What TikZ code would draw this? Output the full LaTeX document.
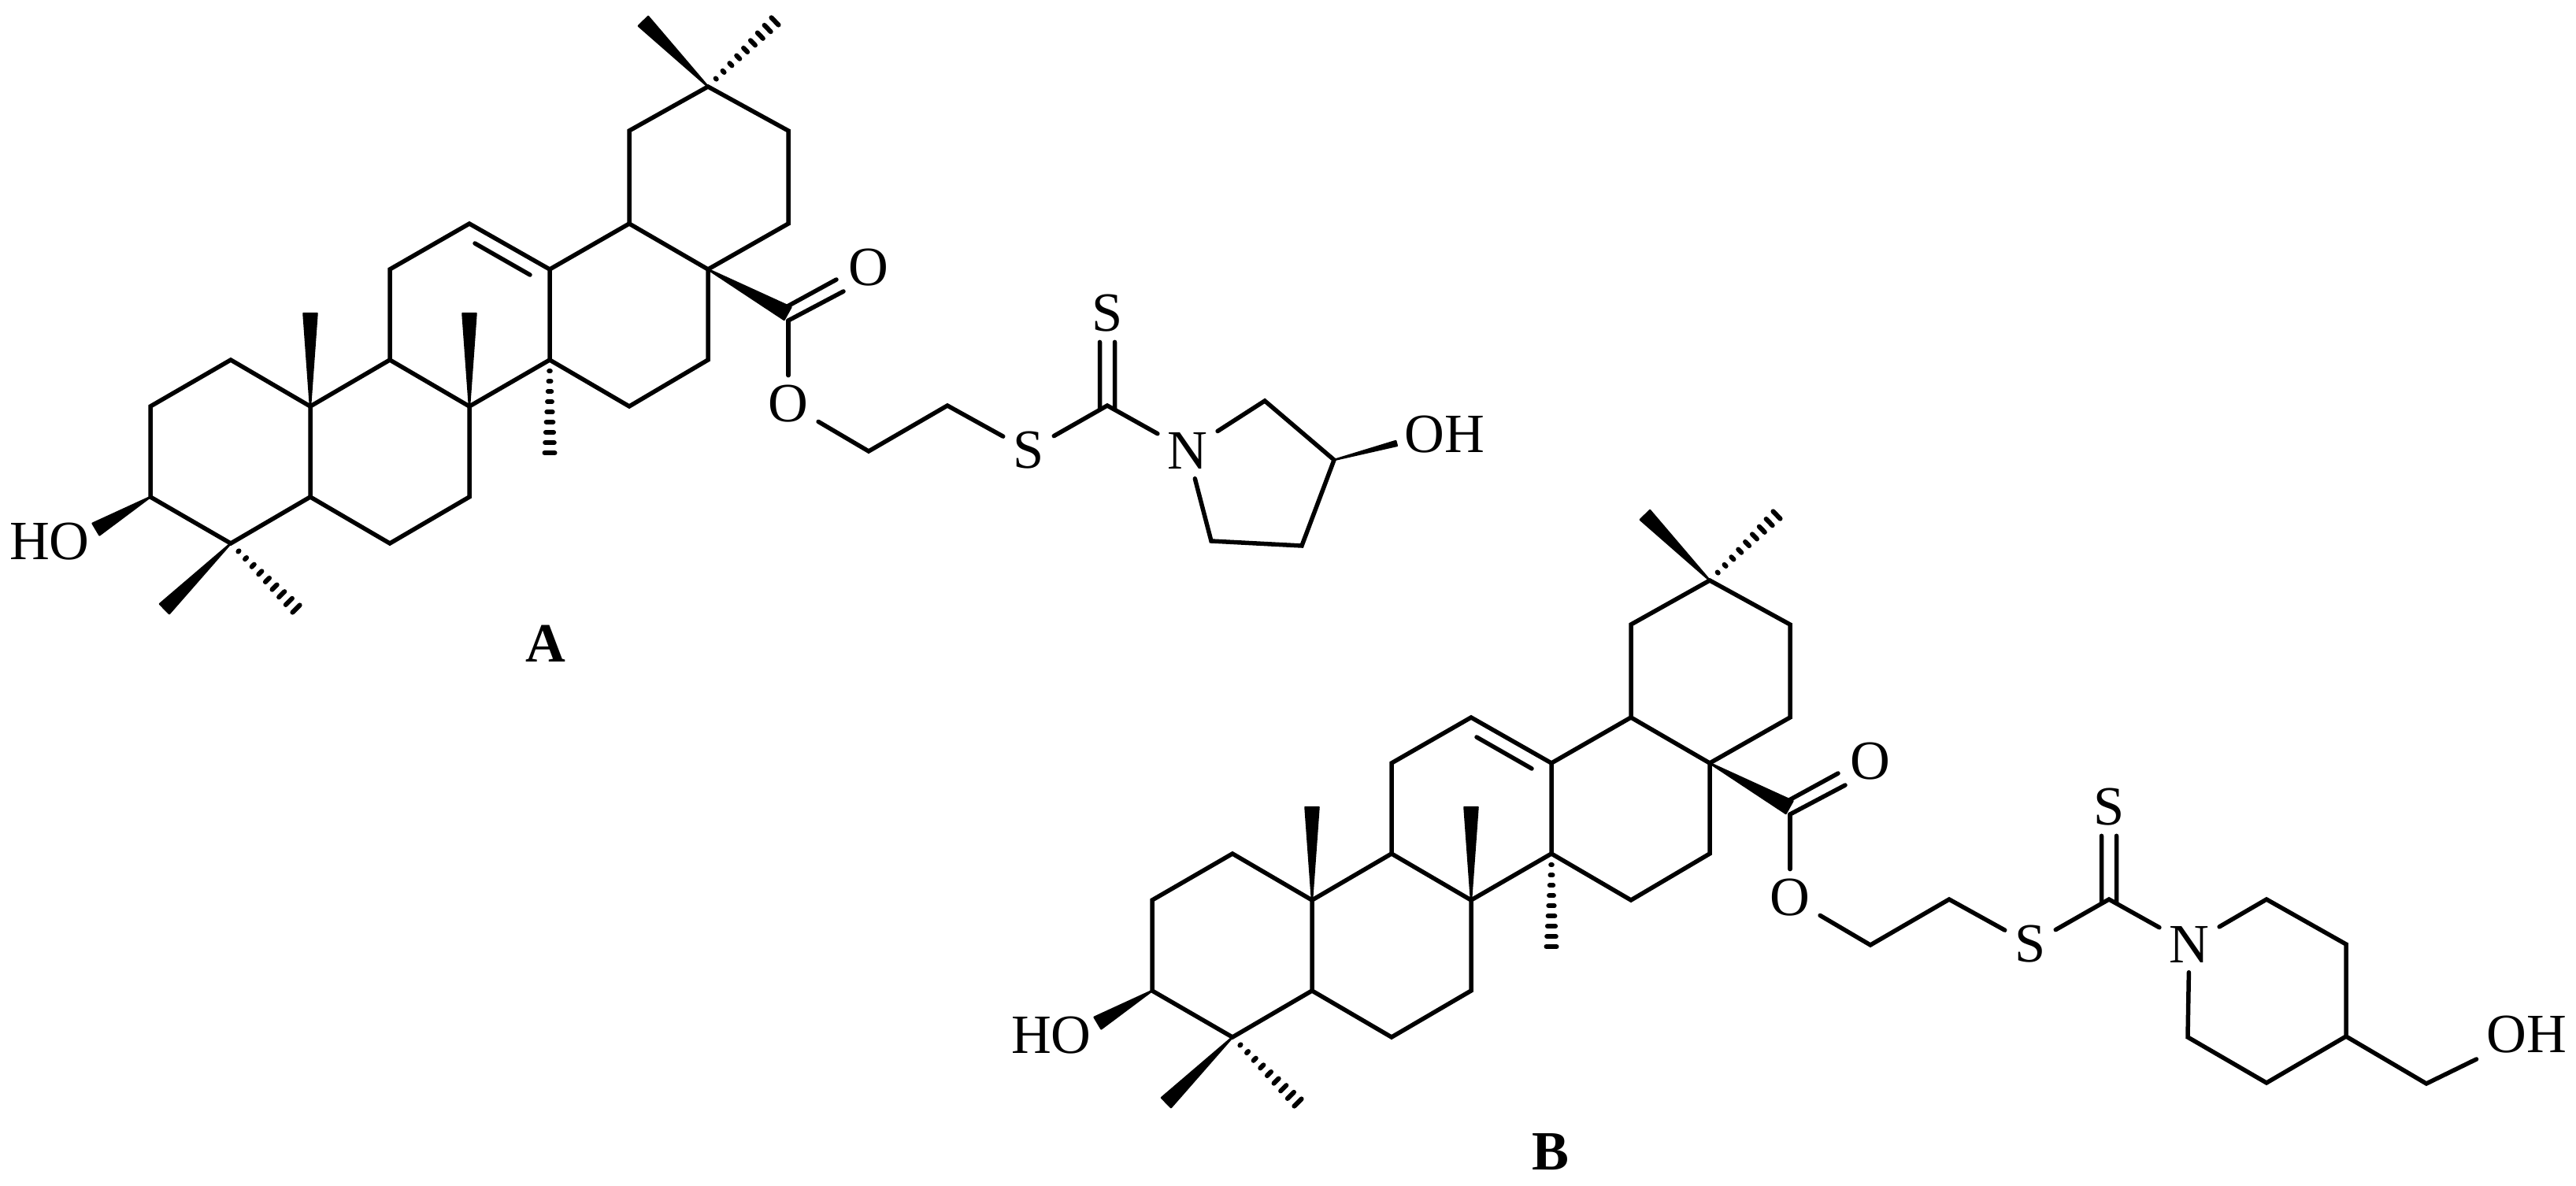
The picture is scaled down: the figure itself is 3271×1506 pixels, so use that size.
\documentclass[tikz,border=0pt]{standalone}
\usepackage{fontspec}
\setmainfont{Liberation Serif}
\usetikzlibrary{calc}

\tikzset{
  atom/.style={inner sep=.12cm,font=\fontsize{20}{24}\selectfont},
  title/.style={inner sep=0pt,font=\fontsize{20}{24}\selectfont\bfseries},
  bond/.style={line width=.055cm,line cap=round}
}

\newcommand{\wedgebond}[3][.085cm]{%
  \filldraw[line width=.025cm,line join=round] (#2) -- ($(#3)!#1!90:(#2)$) -- ($(#3)!#1!-90:(#2)$) -- cycle;}
\newcommand{\hashbond}[2]{%
  \foreach \pos in {.12,.23,...,1}
    \draw[line width=.06cm,line cap=round] ($(#1)!\pos!(#2)!{\pos*.065cm}!90:(#1)$) -- ($(#1)!\pos!(#2)!{\pos*.065cm}!-90:(#1)$);}

\newcommand{\triterpene}{%
  \coordinate (c1) at (293,457); \coordinate (c2) at (191,516); \coordinate (c3) at (191,631);
  \coordinate (c4) at (293,690); \coordinate (c5) at (394,631); \coordinate (c6) at (495,690);
  \coordinate (c7) at (596,631); \coordinate (c8) at (596,516); \coordinate (c9) at (495,457);
  \coordinate (c10) at (394,516); \coordinate (c11) at (495,342); \coordinate (c12) at (596,284);
  \coordinate (c13) at (698,342); \coordinate (c14) at (698,457); \coordinate (c15) at (799,516);
  \coordinate (c16) at (899,457); \coordinate (c17) at (899,342); \coordinate (c18) at (799,284);
  \coordinate (c19) at (799,166); \coordinate (c20) at (899,110); \coordinate (c21) at (1001,166);
  \coordinate (c22) at (1001,284);
  \draw[bond] (c1) -- (c2) -- (c3) -- (c4) -- (c5) -- (c10) -- cycle;
  \draw[bond] (c5) -- (c6) -- (c7) -- (c8) -- (c9) -- (c10);
  \draw[bond] (c9) -- (c11) -- (c12) -- (c13) -- (c14) -- (c8);
  \draw[bond] (c14) -- (c15) -- (c16) -- (c17) -- (c18) -- (c13);
  \draw[bond] (c17) -- (c22) -- (c21) -- (c20) -- (c19) -- (c18);
  \coordinate (db1) at (603,309); \coordinate (db2) at (673,349);
  \draw[bond] (db1) -- (db2);
  \coordinate (me10) at (394,398); \coordinate (me8) at (596,398); \coordinate (me14) at (698,575);
  \coordinate (me4a) at (209,773); \coordinate (me4b) at (376,773);
  \coordinate (me20a) at (817,27); \coordinate (me20b) at (984,27);
  \wedgebond{c10}{me10}
  \wedgebond{c8}{me8}
  \hashbond{c14}{me14}
  \wedgebond{c4}{me4a}
  \hashbond{c4}{me4b}
  \wedgebond{c20}{me20a}
  \hashbond{c20}{me20b}
  \node[atom] (HO) at (63,688) {HO};
  \coordinate (ho) at (122,672);
  \wedgebond{c3}{ho}
  \coordinate (cc) at (1001,407); \coordinate (ccw) at (1000,398);
  \wedgebond[.09cm]{c17}{ccw}
  \node[atom] (O1) at (1103,340) {O};
  \coordinate (co1) at (998,390); \coordinate (co2) at (1062,355); \coordinate (co3) at (1071,370);
  \draw[bond] (co1) -- (co2);
  \draw[bond] (cc) -- (co3);
  \node[atom] (O2) at (1001,513) {O};
  \coordinate (ch1) at (1103,573); \coordinate (ch2) at (1203,515);
  \node[atom] (S1) at (1306,572) {S};
  \coordinate (cs) at (1406,515);
  \node[atom] (S2) at (1406,398) {S};
  \node[atom] (N) at (1508,572) {N};
  \draw[bond] (cc) -- (O2);
  \draw[bond] (O2) -- (ch1) -- (ch2) -- (S1);
  \draw[bond] (S1) -- (cs) -- (N);
  \draw[bond] ([shift={(-9.5,5)}]cs) -- ([xshift=-.095cm]S2.south);
  \draw[bond] ([shift={(9.5,5)}]cs) -- ([xshift=.095cm]S2.south);
}

\begin{document}
\begin{tikzpicture}[x=.01cm,y=-.01cm]
\useasboundingbox (0,0) rectangle (3271,1506);
\begin{scope}[name prefix=A-]
\triterpene
\coordinate (r1) at (1606,509);
\coordinate (r2) at (1694,584);
\coordinate (r3) at (1653,693);
\coordinate (r4) at (1538,687);
\coordinate (oh) at (1773,563);
\draw[bond] (N) -- (r1) -- (r2) -- (r3) -- (r4) -- (N);
\wedgebond[.03cm]{r2}{oh}
\node[atom] (OH) at (1834,552) {OH};
\node[title] (nameA) at (693,817) {A};
\end{scope}
\begin{scope}[shift={(1272,627)},name prefix=B-]
\triterpene
\coordinate (r1) at (1606,515);
\coordinate (r2) at (1707,572);
\coordinate (r3) at (1707,689);
\coordinate (r4) at (1606,748);
\coordinate (r5) at (1506,690);
\coordinate (ch3) at (1809,749);
\node[atom] (OH) at (1936,687) {OH};
\draw[bond] (N) -- (r1) -- (r2) -- (r3) -- (r4) -- (r5) -- (N);
\draw[bond] (r3) -- (ch3) -- (OH);
\node[title] (nameB) at (697,836) {B};
\end{scope}
\end{tikzpicture}
\end{document}
